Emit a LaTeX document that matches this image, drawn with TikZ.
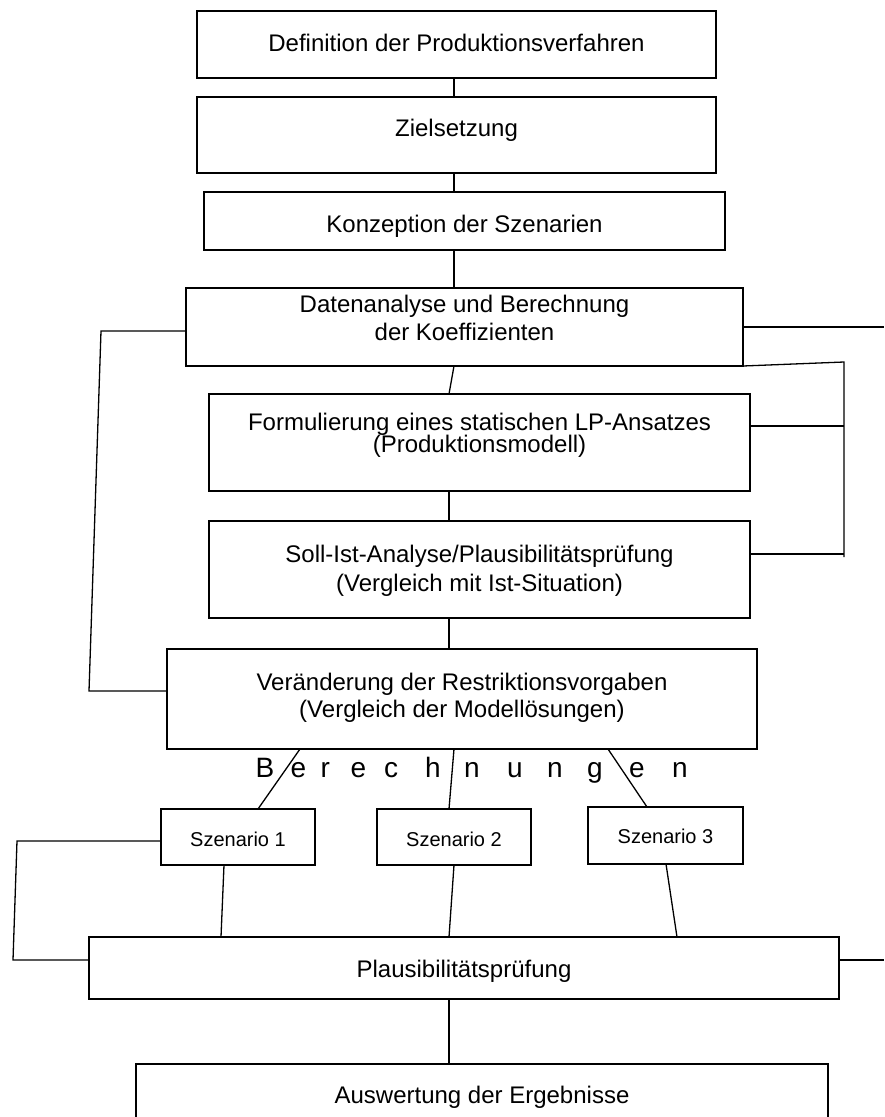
\documentclass[tikz,border=0pt]{standalone}
\usepackage{fontspec}
\setmainfont{Liberation Sans}
\newcommand\boxtext[3]{\raisebox{#1}[0pt][0pt]{\vbox{\lineskiplimit=-100pt\baselineskip=#2\relax\halign{\hfil##\hfil\cr#3\crcr}}}}
\tikzset{
  box/.style={draw, line width=1.4pt, inner sep=0pt, outer sep=0pt, font=\fontsize{24}{28}\selectfont},
  sbox/.style={box, font=\fontsize{20}{24}\selectfont},
  conn/.style={line width=1.3pt},
  letter/.style={anchor=base west, inner sep=0pt, font=\fontsize{28}{32}\selectfont}
}
\begin{document}
\begin{tikzpicture}[x=1pt, y=-1pt]
\useasboundingbox (0,0) rectangle (884,1117);
\clip (0,0) rectangle (884,1117);

% boxes
\node[box, minimum width=519pt, minimum height=67pt] (b1) at (456.5,44.5) {\boxtext{-6.5pt}{28pt}{Definition der Produktionsverfahren}};
\node[box, minimum width=519pt, minimum height=76pt] (b2) at (456.5,135) {\boxtext{-1pt}{28pt}{Zielsetzung}};
\node[box, minimum width=521pt, minimum height=58pt] (b3) at (464.5,221) {\boxtext{-11pt}{28pt}{Konzeption der Szenarien}};
\node[box, minimum width=557pt, minimum height=78pt] (b4) at (464.5,327) {\boxtext{-13pt}{28pt}{Datenanalyse und Berechnung\cr der Koeffizienten}};
\node[box, minimum width=541pt, minimum height=97pt] (b5) at (479.5,442.5) {\boxtext{-9.5pt}{22pt}{Formulierung eines statischen LP-Ansatzes\cr(Produktionsmodell)}};
\node[box, minimum width=541pt, minimum height=97pt] (b6) at (479.5,569.5) {\boxtext{-21.5pt}{29pt}{Soll-Ist-Analyse/Plausibilitätsprüfung\cr(Vergleich mit Ist-Situation)}};
\node[box, minimum width=590pt, minimum height=100pt] (b7) at (462,699) {\boxtext{-18pt}{27pt}{Veränderung der Restriktionsvorgaben\cr(Vergleich der Modellösungen)}};
\node[sbox, minimum width=154pt, minimum height=56pt] (s1) at (238,837) {\boxtext{-9pt}{24pt}{Szenario 1}};
\node[sbox, minimum width=154pt, minimum height=56pt] (s2) at (454,837) {\boxtext{-9pt}{24pt}{Szenario 2}};
\node[sbox, minimum width=155pt, minimum height=57pt] (s3) at (665.5,835.5) {\boxtext{-7.5pt}{24pt}{Szenario 3}};
\node[box, minimum width=750pt, minimum height=62pt] (p) at (464,968) {\boxtext{-9pt}{28pt}{Plausibilitätsprüfung}};
\node[box, minimum width=692pt, minimum height=86pt] (a) at (482,1107) {\boxtext{4pt}{28pt}{Auswertung der Ergebnisse}};

% Berechnungen
\foreach \i/\x/\c in {1/255.5/B,2/290.5/e,3/320.5/r,4/350.5/e,5/384/c,6/425/h,7/464/n,8/507/u,9/547/n,10/587/g,11/629/e,12/672/n}
  \node[letter] (ber\i) at (\x,777) {\c};

% main connectors
\draw[conn] ([xshift=-2.5pt]b1.south) -- ([xshift=-2.5pt]b2.north);
\draw[conn] ([xshift=-2.5pt]b2.south) -- ([xshift=-10.5pt]b3.north);
\draw[conn] ([xshift=-10.5pt]b3.south) -- ([xshift=-10.5pt]b4.north);
\draw[conn] ([xshift=-10.5pt]b4.south) -- ([xshift=-30.5pt]b5.north);
\draw[conn] ([xshift=-30.5pt]b5.south) -- ([xshift=-30.5pt]b6.north);
\draw[conn] ([xshift=-30.5pt]b6.south) -- ([xshift=-13pt]b7.north);
\draw[conn] ([xshift=-162pt]b7.south) -- ([xshift=20pt]s1.north);
\draw[conn] ([xshift=-8pt]b7.south) -- ([xshift=-5pt]s2.north);
\draw[conn] ([xshift=146pt]b7.south) -- ([xshift=-18.5pt]s3.north);
\draw[conn] ([xshift=-14pt]s1.south) -- ([xshift=-243pt]p.north);
\draw[conn] (s2.south) -- ([xshift=-15pt]p.north);
\draw[conn] ([xshift=0.5pt]s3.south) -- ([xshift=213pt]p.north);
\draw[conn] ([xshift=-15pt]p.south) -- ([xshift=-33pt]a.north);

% feedback lines
\coordinate (la) at (101,331);
\coordinate (lb) at (89,691);
\coordinate (re1) at (884,327);
\coordinate (rt) at (844,362);
\coordinate (rb) at (844,557);
\coordinate (sa) at (17,841);
\coordinate (sb) at (13,960);
\coordinate (re2) at (884,960);

\draw[conn] ([yshift=-4pt]b4.west) -- (la) -- (lb) -- (lb -| b7.west);
\draw[conn] (b4.east) -- (re1);
\draw[conn] (b4.south east) -- (rt) -- (rb);
\draw[conn] ([yshift=16.5pt]b5.east) -- ([yshift=16.5pt]b5.east -| rt);
\draw[conn] ([yshift=15.5pt]b6.east) -- ([yshift=15.5pt]b6.east -| rt);
\draw[conn] ([yshift=-4pt]s1.west) -- (sa) -- (sb) -- (sb -| p.west);
\draw[conn] (p.east |- re2) -- (re2);
\end{tikzpicture}
\end{document}
